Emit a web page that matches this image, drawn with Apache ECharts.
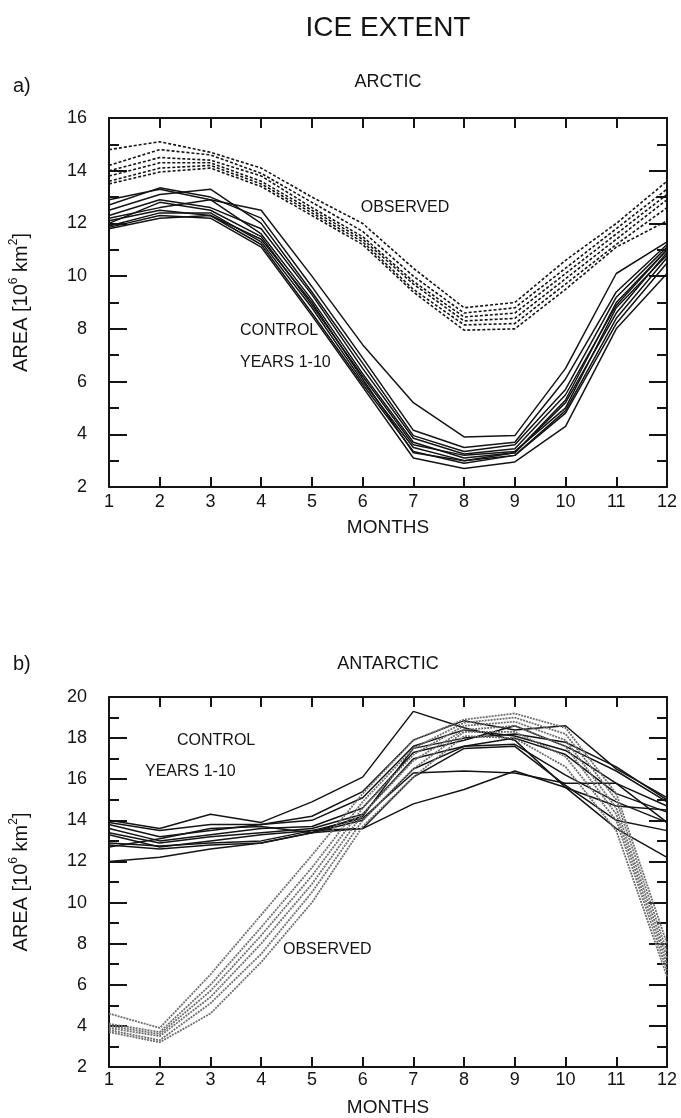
<!DOCTYPE html>
<html>
<head>
<meta charset="utf-8">
<script src="https://cdn.jsdelivr.net/npm/echarts@6.0.0/dist/echarts.min.js"></script>
<style>
  html, body { margin: 0; padding: 0; background: #fff; }
  #chart { width: 681px; height: 1118px; }
</style>
</head>
<body>
<div id="chart"></div>
<script>
// x axis: months of the year
var months = [1, 2, 3, 4, 5, 6, 7, 8, 9, 10, 11, 12];
// y tick labels of the two panels
var arcticTicks = [2, 4, 6, 8, 10, 12, 14, 16];
var antarcticTicks = [2, 4, 6, 8, 10, 12, 14, 16, 18, 20];

// a) arctic, control run years 1-10 (10^6 km2)
var arcticControl = [
  [12.9, 13.3, 12.9, 12.5, 10.0, 7.4, 5.2, 3.9, 3.95, 6.5, 10.1, 11.3],
  [12.7, 13.35, 13.0, 12.2, 9.6, 6.9, 4.15, 3.5, 3.7, 6.1, 9.4, 11.2],
  [12.5, 13.1, 13.3, 12.0, 9.4, 6.7, 3.95, 3.35, 3.6, 5.7, 9.2, 11.1],
  [12.3, 12.9, 12.6, 11.8, 9.3, 6.5, 3.85, 3.25, 3.45, 5.5, 8.9, 11.0],
  [12.2, 12.6, 12.9, 11.6, 9.1, 6.3, 3.7, 3.1, 3.3, 5.2, 8.6, 10.9],
  [12.0, 12.8, 12.5, 11.5, 8.9, 6.2, 3.6, 3.2, 3.35, 5.0, 8.8, 10.8],
  [11.9, 12.4, 12.4, 11.3, 8.8, 6.0, 3.5, 3.0, 3.2, 4.9, 8.4, 10.7],
  [11.8, 12.2, 12.3, 11.2, 8.6, 5.9, 3.35, 2.9, 3.2, 4.8, 8.2, 10.5],
  [11.85, 12.3, 12.2, 11.1, 8.5, 5.8, 3.1, 2.7, 2.95, 4.3, 8.0, 10.1],
  [12.1, 12.5, 12.3, 11.4, 9.0, 6.1, 3.3, 3.0, 3.3, 5.3, 9.0, 11.0]
];
// a) arctic, observed years
var arcticObserved = [
  [14.8, 15.1, 14.7, 14.1, 13.0, 12.0, 10.3, 8.8, 9.0, 10.6, 12.0, 13.6],
  [14.2, 14.8, 14.6, 13.9, 12.8, 11.7, 10.0, 8.6, 8.8, 10.3, 11.8, 13.3],
  [14.0, 14.5, 14.4, 13.8, 12.6, 11.5, 9.8, 8.45, 8.6, 10.1, 11.6, 13.1],
  [13.8, 14.3, 14.3, 13.6, 12.5, 11.4, 9.7, 8.3, 8.4, 9.9, 11.4, 12.9],
  [13.6, 14.1, 14.2, 13.5, 12.4, 11.3, 9.5, 8.15, 8.2, 9.7, 11.2, 12.6],
  [13.5, 13.95, 14.1, 13.4, 12.3, 11.2, 9.4, 7.95, 8.0, 9.5, 11.1, 12.1]
];
// b) antarctic, control run years 1-10
var antarcticControl = [
  [14.0, 13.6, 14.3, 13.9, 14.9, 16.1, 19.3, 18.5, 17.9, 15.6, 13.6, 12.2],
  [13.9, 13.5, 13.8, 13.8, 14.2, 15.4, 17.9, 18.85, 18.4, 18.6, 16.5, 15.1],
  [13.8, 13.2, 13.5, 13.8, 14.0, 15.1, 17.6, 18.4, 18.1, 17.4, 15.8, 14.7],
  [13.6, 13.0, 13.3, 13.6, 13.7, 14.6, 17.3, 17.9, 18.6, 17.6, 16.4, 14.9],
  [13.4, 12.9, 13.2, 13.4, 13.6, 14.3, 17.0, 17.6, 18.0, 17.2, 15.3, 14.4],
  [13.3, 12.7, 13.0, 13.3, 13.5, 14.1, 16.3, 16.4, 16.3, 15.8, 15.8, 13.9],
  [12.9, 12.75, 12.9, 13.0, 13.5, 13.6, 16.1, 17.5, 17.6, 15.7, 14.0, 13.5],
  [12.8, 12.6, 12.8, 12.9, 13.4, 13.6, 14.8, 15.5, 16.4, 15.6, 14.7, 14.5],
  [12.7, 13.1, 13.6, 13.7, 13.4, 14.2, 17.5, 18.0, 18.2, 17.8, 16.6, 15.0],
  [12.0, 12.2, 12.6, 12.9, 13.4, 14.0, 16.5, 17.6, 17.7, 16.2, 14.9, 13.9]
];
// b) antarctic, observed years
var antarcticObserved = [
  [4.6, 3.9, 6.5, 9.4, 12.3, 15.3, 17.9, 18.9, 19.2, 18.5, 15.3, 8.0],
  [4.1, 3.7, 6.0, 8.8, 11.7, 14.9, 17.5, 18.75, 19.0, 18.2, 15.0, 7.6],
  [4.0, 3.6, 5.7, 8.4, 11.3, 14.6, 17.2, 18.6, 18.8, 17.9, 14.6, 7.3],
  [3.9, 3.5, 5.4, 8.0, 10.9, 14.3, 16.9, 18.4, 18.6, 17.6, 14.3, 7.0],
  [3.8, 3.3, 5.1, 7.5, 10.5, 14.0, 16.5, 18.3, 18.3, 17.1, 14.0, 6.7],
  [3.7, 3.2, 4.6, 7.1, 10.0, 13.7, 16.1, 18.1, 18.0, 16.6, 13.5, 6.4]
];

var FONT = '"Liberation Sans", Arial, Helvetica, sans-serif';
var INK = '#141414';

function pairs(vals) {
  return months.map(function (m, i) { return [m, vals[i]]; });
}

// x axes: bottom one with labels, top one only ticks (closes the frame)
function xAxes(g) {
  var base = {
    type: 'value', gridIndex: g,
    min: months[0], max: months[months.length - 1], interval: 1,
    axisLine: { show: true, onZero: false, lineStyle: { color: INK, width: 2 } },
    axisTick: { show: true, inside: true, length: 10, lineStyle: { color: INK, width: 2 } },
    splitLine: { show: false }
  };
  var bottom = Object.assign({}, base, {
    position: 'bottom',
    name: 'MONTHS', nameLocation: 'middle', nameGap: 31,
    nameTextStyle: { fontFamily: FONT, fontSize: 19, color: INK },
    axisLabel: { margin: g === 0 ? 6 : 4, fontFamily: FONT, fontSize: 18, color: INK }
  });
  var top = Object.assign({}, base, { position: 'top', axisLabel: { show: false } });
  return [bottom, top];
}

// y axes: left with labels, right only ticks; even values long, odd short
function yAxes(g, ticks) {
  var base = {
    type: 'value', gridIndex: g,
    min: ticks[0], max: ticks[ticks.length - 1], interval: ticks[1] - ticks[0],
    axisLine: { show: true, onZero: false, lineStyle: { color: INK, width: 2 } },
    axisTick: { show: true, inside: true, length: 18, lineStyle: { color: INK, width: 2 } },
    minorTick: { show: true, splitNumber: 2, length: 10, lineStyle: { color: INK, width: 2 } },
    splitLine: { show: false }
  };
  var left = Object.assign({}, base, {
    position: 'left',
    name: '{a|AREA [10}{s|6}{a| km}{s|2}{a|]}',
    nameLocation: 'middle', nameGap: 75, nameRotate: 90,
    nameTextStyle: {
      rich: {
        a: { fontFamily: FONT, fontSize: 20, color: INK, lineHeight: 26 },
        s: { fontFamily: FONT, fontSize: 12, color: INK, lineHeight: 15, verticalAlign: 'top' }
      }
    },
    axisLabel: { margin: 22, fontFamily: FONT, fontSize: 18, color: INK }
  });
  var right = Object.assign({}, base, { position: 'right', axisLabel: { show: false } });
  return [left, right];
}

function lines(list, g, style, z) {
  return list.map(function (vals) {
    return {
      type: 'line', xAxisIndex: g * 2, yAxisIndex: g * 2,
      data: pairs(vals), symbol: 'none', silent: true, z: z,
      lineStyle: style
    };
  });
}

var solid = { color: INK, width: 1.5, type: 'solid' };
var dotBlack = { color: INK, width: 1.6, type: [3, 2] };
var dotGray = { color: '#707070', width: 1.8, type: [2, 1] };

var series = []
  .concat(lines(arcticObserved, 0, dotBlack, 2))
  .concat(lines(arcticControl, 0, solid, 3))
  .concat(lines(antarcticControl, 1, solid, 2))
  .concat(lines(antarcticObserved, 1, dotGray, 3));

function txt(x, y, text, size, align) {
  return {
    type: 'text', x: x, y: y, silent: true,
    style: {
      text: text, fill: INK, fontFamily: FONT, fontSize: size,
      align: align || 'center', verticalAlign: 'middle'
    }
  };
}

var chart = echarts.init(document.getElementById('chart'), null, { renderer: 'canvas' });
chart.setOption({
  backgroundColor: '#fff',
  animation: false,
  grid: [
    { left: 109, top: 118, width: 558, height: 369 },
    { left: 109, top: 697, width: 558, height: 370 }
  ],
  xAxis: xAxes(0).concat(xAxes(1)),
  yAxis: yAxes(0, arcticTicks).concat(yAxes(1, antarcticTicks)),
  series: series,
  graphic: [
    txt(388, 28, 'ICE EXTENT', 28),
    txt(13, 86, 'a)', 20, 'left'),
    txt(388, 82, 'ARCTIC', 18),
    txt(405, 208, 'OBSERVED', 16),
    txt(240, 331, 'CONTROL', 16, 'left'),
    txt(240, 363, 'YEARS 1-10', 16, 'left'),
    txt(13, 664, 'b)', 20, 'left'),
    txt(388, 664, 'ANTARCTIC', 18),
    txt(177, 741, 'CONTROL', 16, 'left'),
    txt(145, 772, 'YEARS 1-10', 16, 'left'),
    txt(283, 950, 'OBSERVED', 16, 'left')
  ]
});
</script>
</body>
</html>
